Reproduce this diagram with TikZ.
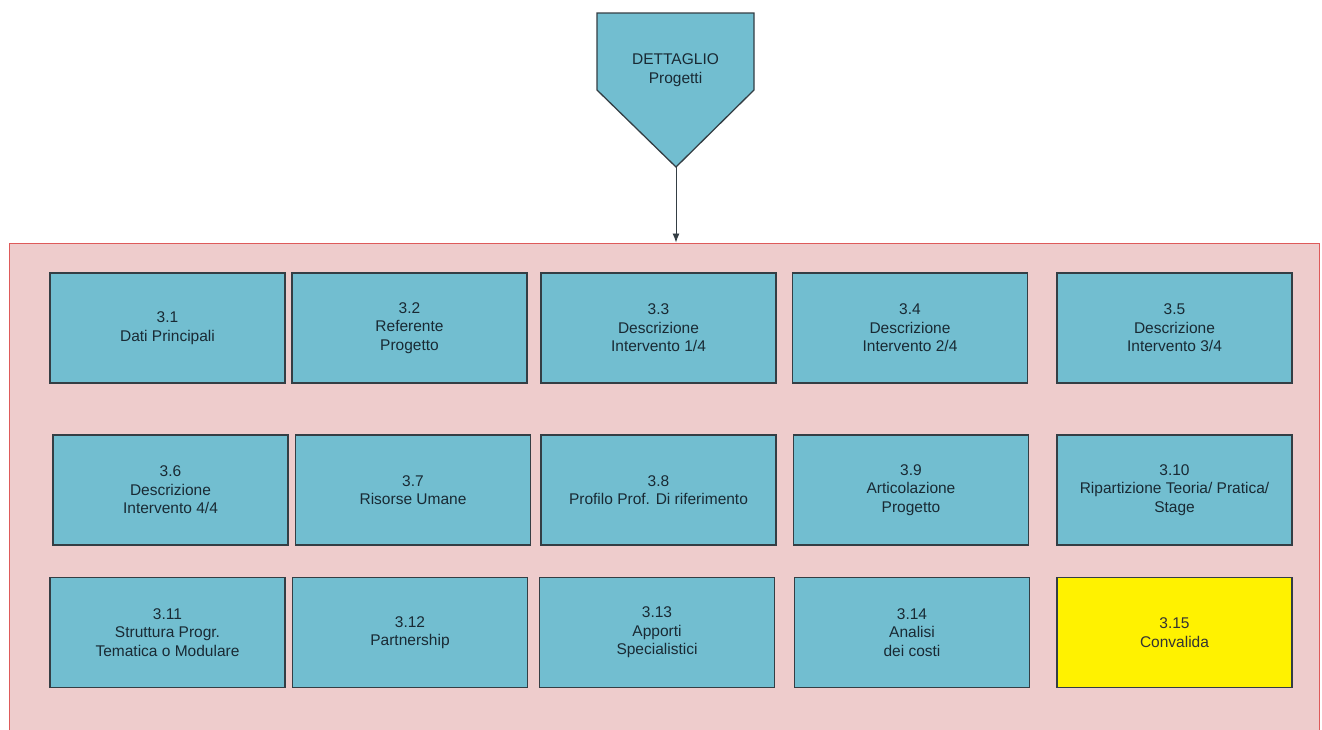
\documentclass[tikz,border=0pt]{standalone}
\usepackage{fontspec}
\setmainfont{Liberation Sans}
\usetikzlibrary{arrows.meta, positioning}

\definecolor{boxblue}{RGB}{114,190,208}
\definecolor{boxline}{RGB}{52,62,68}
\definecolor{framepink}{RGB}{238,204,204}
\definecolor{framered}{RGB}{222,90,90}
\definecolor{txt}{RGB}{25,42,52}

\tikzset{
  card/.style={draw=boxline, fill=boxblue, line width=1.3pt, text=txt,
    minimum width=235pt, minimum height=110pt, align=center, inner sep=2pt,
    font=\fontsize{15.5}{18.5}\selectfont},
  lastcard/.style={card, fill=yellow, text=black!80},
}

\begin{document}
\begin{tikzpicture}[x=1pt,y=-1pt,>={Latex[length=9pt,width=7pt]}]
\useasboundingbox (0,0) rectangle (1322,729);
% frame
\node(frame)[draw=framered, fill=framepink, line width=1pt, minimum width=1310pt,
  minimum height=497pt, inner sep=0pt] at (664,491.5){};

% head
\draw[draw=boxline, fill=boxblue, line width=1.3pt]
  (597,13)--(754,13)--(754,90)--(676,167)--(597,90)--cycle;
\node(head)[text=txt, align=center, font=\fontsize{15.5}{18.5}\selectfont] at (675.5,70){DETTAGLIO\\Progetti};
\coordinate(tip) at (676,167);
\draw[->, line width=0.9pt, boxline](tip)--(tip |- frame.north);

% row 1
\node(b1)[card] at (167.5,328){3.1\\Dati Principali};
\node(b2)[card] at (409.5,328){3.2\\Referente\\Progetto};
\node(b3)[card] at (658.5,328){3.3\\Descrizione\\Intervento 1/4};
\node(b4)[card] at (910,328){3.4\\Descrizione\\Intervento 2/4};
\node(b5)[card] at (1174.5,328){3.5\\Descrizione\\Intervento 3/4};
% row 2
\node(b6)[card] at (170.5,490){3.6\\Descrizione\\Intervento 4/4};
\node(b7)[card] at (413,490){3.7\\Risorse Umane};
\node(b8)[card] at (658.5,490){3.8\\Profilo Prof. Di riferimento};
\node(b9)[card] at (911,490){3.9\\Articolazione\\Progetto};
\node(b10)[card] at (1174.5,490){3.10\\Ripartizione Teoria/ Pratica/\\Stage};
% row 3
\node(b11)[card] at (167.5,632.5){3.11\\Struttura Progr.\\Tematica o Modulare};
\node(b12)[card] at (410,632.5){3.12\\Partnership};
\node(b13)[card] at (657,632.5){3.13\\Apporti\\Specialistici};
\node(b14)[card] at (912,632.5){3.14\\Analisi\\dei costi};
\node(b15)[lastcard] at (1174.5,632.5){3.15\\Convalida};
\end{tikzpicture}
\end{document}
